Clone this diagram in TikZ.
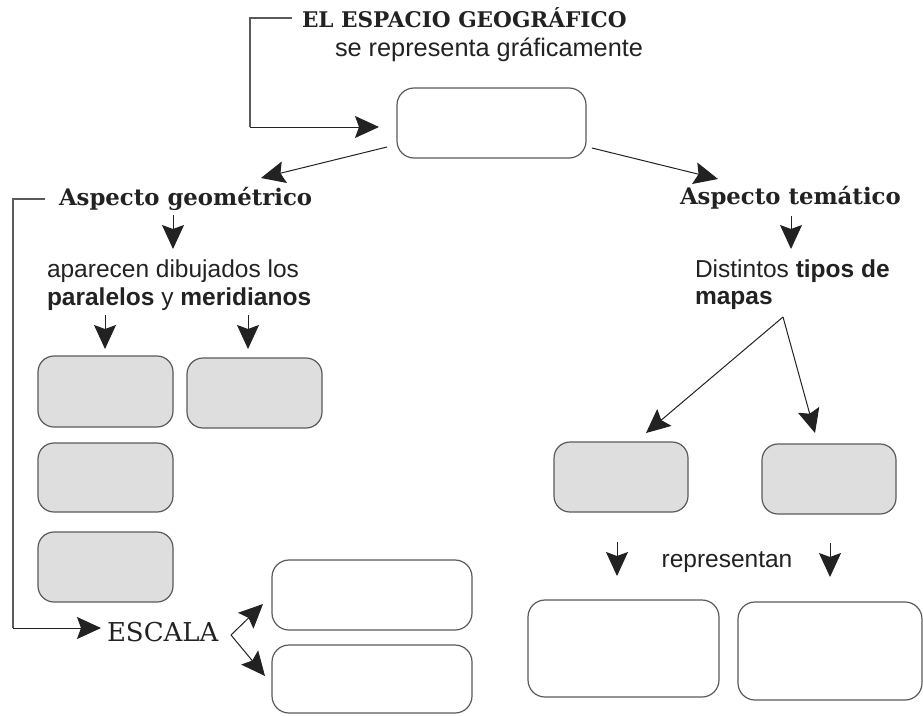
\documentclass[tikz,border=0pt]{standalone}
\usepackage{fontspec}
\setmainfont{Liberation Sans}
\newfontfamily\slab{DejaVu Serif}
\usetikzlibrary{arrows.meta}
\definecolor{boxgrey}{HTML}{DEDEDE}
\definecolor{edge}{HTML}{5A5A5A}
\definecolor{ink}{HTML}{222222}
\tikzset{
  whitebox/.style={draw=edge, line width=1.2pt, rounded corners=17pt, fill=white, inner sep=0pt, outer sep=0pt},
  greybox/.style={whitebox, fill=boxgrey, rounded corners=16pt},
  sanstext/.style={inner sep=0pt, outer sep=0pt, text=ink, font=\fontsize{24.5}{28}\selectfont},
  slabbold/.style={inner sep=0pt, outer sep=0pt, text=ink, font=\slab\bfseries\fontsize{22.8}{28}\selectfont},
  slabtitle/.style={inner sep=0pt, outer sep=0pt, text=ink, font=\slab\bfseries\fontsize{21.6}{26}\selectfont},
  slabreg/.style={inner sep=0pt, outer sep=0pt, text=ink, font=\slab\fontsize{26}{30}\selectfont},
  conn/.style={draw=ink, line width=1pt, -{Stealth[length=24pt, width=22pt, inset=4pt]}},
  bracket/.style={draw=edge, line width=1.2pt}
}
\begin{document}
\begin{tikzpicture}[x=1pt, y=-1pt]
\useasboundingbox (0,0) rectangle (923,715);

% texts
\node[slabtitle, anchor=base west] (title) at (302,27) {EL ESPACIO GEOGRÁFICO};
\node[sanstext, anchor=base, font=\fontsize{25.3}{28}\selectfont] (repr) at (489,56) {se representa gráficamente};
\node[slabbold, anchor=base west] (geom) at (59,205) {Aspecto geométrico};
\node[slabbold, anchor=base west] (tema) at (680,204) {Aspecto temático};
\node[sanstext, anchor=base west] (apar1) at (47,277) {aparecen dibujados los};
\node[sanstext, anchor=base west] (apar2) at (47,305) {\textbf{paralelos} y \textbf{meridianos}};
\node[sanstext, anchor=base west] (dist1) at (695,277) {Distintos \textbf{tipos de}};
\node[sanstext, anchor=base west] (dist2) at (695,304) {\textbf{mapas}};
\node[sanstext, anchor=base] (repres) at (727,567) {representan};
\node[slabreg, anchor=base west] (escala) at (107,641) {ESCALA};

% boxes
\node[whitebox, minimum width=189pt, minimum height=70pt] (top) at (491.5,123) {};
\node[greybox, minimum width=135pt, minimum height=71pt] (g1) at (105.5,391.5) {};
\node[greybox, minimum width=135pt, minimum height=70pt] (g2) at (254.5,393) {};
\node[greybox, minimum width=135pt, minimum height=69pt] (g3) at (105.5,477.5) {};
\node[greybox, minimum width=135pt, minimum height=70pt] (g4) at (105.5,567) {};
\node[whitebox, minimum width=200pt, minimum height=70pt] (e1) at (372,595) {};
\node[whitebox, minimum width=200pt, minimum height=68pt] (e2) at (372,679) {};
\node[greybox, minimum width=134pt, minimum height=70pt] (r1) at (621,477) {};
\node[greybox, minimum width=134pt, minimum height=70pt] (r2) at (829,479) {};
\node[whitebox, minimum width=191pt, minimum height=97pt] (b1) at (623.5,648.5) {};
\node[whitebox, minimum width=184pt, minimum height=98pt] (b2) at (830,651) {};

% connector end points
\coordinate (t0) at (292,18);
\coordinate (t1) at (250,18);
\coordinate (t2) at (250,127);
\coordinate (t3) at (379,127);
\coordinate (l0) at (45,199);
\coordinate (l1) at (13,199);
\coordinate (l2) at (13,628);
\coordinate (l3) at (101,628);
\coordinate (tl) at (387,147);
\coordinate (tlt) at (261,178);
\coordinate (tr) at (592,148);
\coordinate (trt) at (718,179);
\coordinate (ga) at (173,215);
\coordinate (gat) at (173,249);
\coordinate (pa) at (105,315);
\coordinate (pat) at (105,349);
\coordinate (ma) at (248,315);
\coordinate (mat) at (248,349);
\coordinate (ta) at (791,216);
\coordinate (tat) at (791,249);
\coordinate (mp) at (783,317);
\coordinate (mpl) at (646,433);
\coordinate (mpr) at (815,433);
\coordinate (ef) at (231,635);
\coordinate (efu) at (263,604);
\coordinate (efd) at (265,676);
\coordinate (ra) at (617,542);
\coordinate (rat) at (617,576);
\coordinate (rb) at (830,543);
\coordinate (rbt) at (830,577);

% connectors
\draw[bracket] (t0) -- (t1) -- (t2);
\draw[conn] (t2) -- (t3);
\draw[bracket] (l0) -- (l1) -- (l2);
\draw[conn] (l2) -- (l3);
\draw[conn] (tl) -- (tlt);
\draw[conn] (tr) -- (trt);
\draw[conn] (ga) -- (gat);
\draw[conn] (pa) -- (pat);
\draw[conn] (ma) -- (mat);
\draw[conn] (ta) -- (tat);
\draw[conn] (mp) -- (mpl);
\draw[conn] (mp) -- (mpr);
\draw[conn] (ef) -- (efu);
\draw[conn] (ef) -- (efd);
\draw[conn] (ra) -- (rat);
\draw[conn] (rb) -- (rbt);
\end{tikzpicture}
\end{document}
